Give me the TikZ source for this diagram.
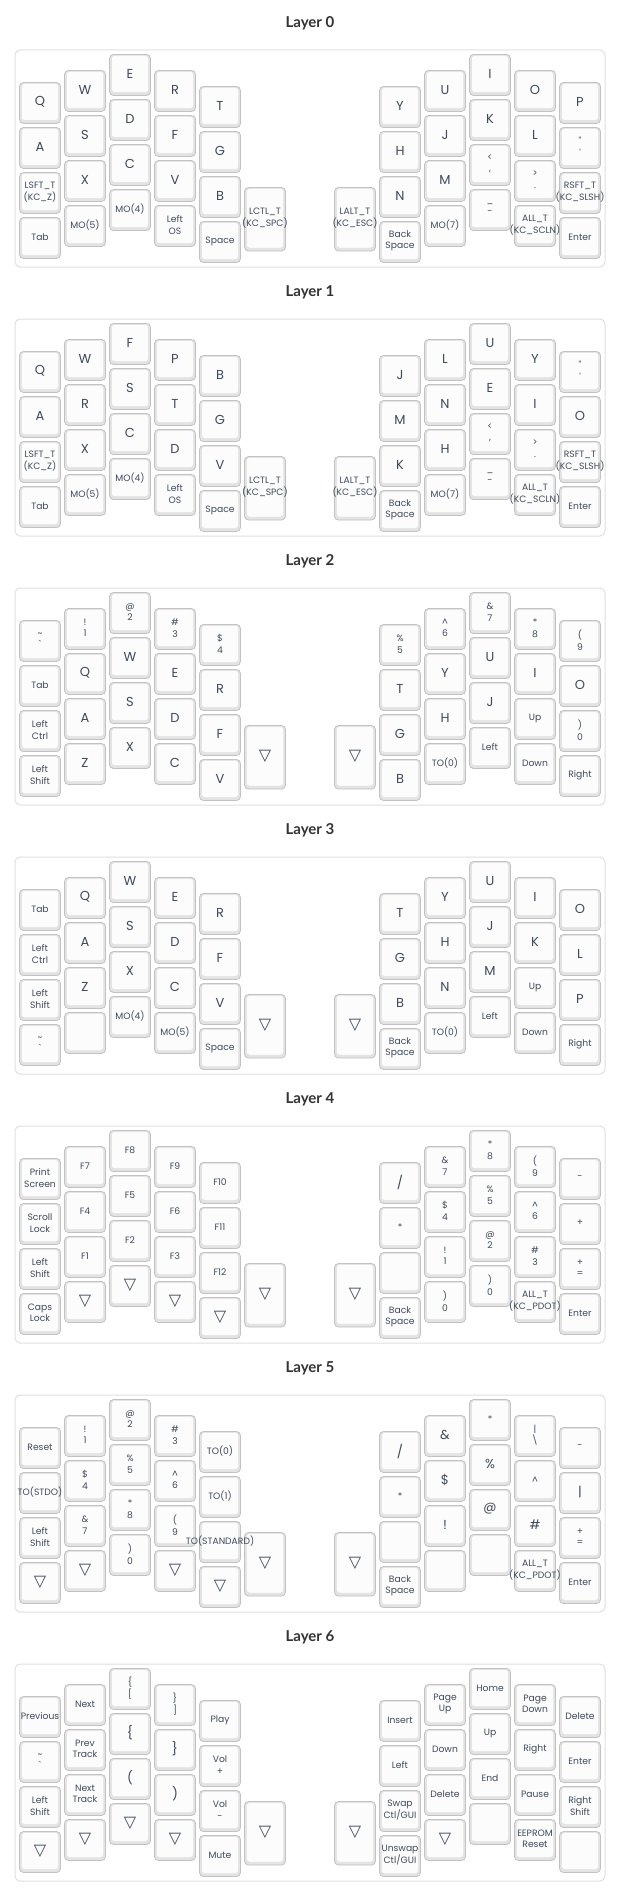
\documentclass[tikz,border=0pt]{standalone}
\usepackage{fontspec}
\newfontfamily\kf{Poppins}
\newfontfamily\tf{Lato}
\newfontfamily\symf{DejaVu Sans}
\definecolor{ktext}{HTML}{3E4A5C}
\definecolor{keyedge}{HTML}{C2C2C2}
\definecolor{keyside}{HTML}{E3E3E3}
\definecolor{keyface}{HTML}{FCFCFC}
\definecolor{keyfaceedge}{HTML}{E2E2E2}
\definecolor{panelline}{HTML}{E0E0E0}
\definecolor{titletext}{HTML}{333333}
\newif\iflabpass
\tikzset{
  keyo/.style={draw=keyedge, fill=keyside, rounded corners=4pt, line width=0.8pt,
    minimum width=41pt, inner sep=0pt, outer sep=0pt},
  keyi/.style={fill=keyface, draw=keyfaceedge, line width=0.5pt, rounded corners=3pt},
  kb/.style={text=ktext, font=\kf\fontsize{13}{15}\selectfont, inner sep=0pt},
  ks/.style={text=ktext, font=\kf\fontsize{9.2}{11.5}\selectfont, align=center, inner sep=0pt},
  kt/.style={text=ktext, font=\symf\fontsize{16}{17}\selectfont, inner sep=0pt},
  panel/.style={draw=panelline, fill=white, rounded corners=5pt, line width=1pt,
    minimum width=590pt, minimum height=217pt, inner sep=0pt, outer sep=0pt},
  ltitle/.style={text=titletext, font=\tf\bfseries\fontsize{15}{18}\selectfont, inner sep=0pt}
}
\newcommand\key[6]{%
  \iflabpass
    \node[#5] (#1l) at ([yshift=1pt]#1.center) {#6};
  \else
    \node[keyo, minimum height=#4pt, anchor=north west] (#1) at (#2,#3) {};
    \path[keyi] ([shift={(2pt,-1pt)}]#1.north west) rectangle ([shift={(-2pt,3pt)}]#1.south east);
  \fi
}
\newcommand\colkeys[4]{%
  \foreach \st/\lab [count=\r from 0] in {#4} {%
    \pgfmathsetmacro\yy{#3+45*\r}%
    \key{#1\r}{#2}{\yy}{41}{\st}{\lab}%
  }%
}
\newcommand\leftside[6]{%
  \colkeys{#1a}{19.5}{\PY+32.5}{#2}%
  \colkeys{#1b}{64.5}{\PY+20.5}{#3}%
  \colkeys{#1c}{109.5}{\PY+4.5}{#4}%
  \colkeys{#1d}{154.5}{\PY+20.5}{#5}%
  \colkeys{#1e}{199.5}{\PY+36.5}{#6}%
}
\newcommand\rightside[6]{%
  \colkeys{#1f}{379.5}{\PY+36.5}{#2}%
  \colkeys{#1g}{424.5}{\PY+20.5}{#3}%
  \colkeys{#1h}{469.5}{\PY+4.5}{#4}%
  \colkeys{#1i}{514.5}{\PY+20.5}{#5}%
  \colkeys{#1j}{559.5}{\PY+32.5}{#6}%
}
\newcommand\thumbs[5]{%
  \key{#1tl}{244.5}{\PY+137.5}{63.5}{#2}{#3}%
  \key{#1tr}{334.5}{\PY+137.5}{63.5}{#4}{#5}%
}
\newcommand\layerframe[1]{%
  \iflabpass\else
  \node[ltitle] (title#1) at (310,\PY-27) {Layer #1};
  \node[panel, anchor=north west] (panel#1) at (15,\PY) {};
  \fi
}
\newcommand\allkeys{%
% ---------------- Layer 0
\def\PY{50}
\layerframe{0}
\leftside{k0}
 {kb/Q,kb/A,ks/{LSFT\_T\\(KC\_Z)},ks/Tab}
 {kb/W,kb/S,kb/X,ks/MO(5)}
 {kb/E,kb/D,kb/C,ks/MO(4)}
 {kb/R,kb/F,kb/V,ks/{Left\\OS}}
 {kb/T,kb/G,kb/B,ks/Space}
\thumbs{k0}{ks}{LCTL\_T\\(KC\_SPC)}{ks}{LALT\_T\\(KC\_ESC)}
\rightside{k0}
 {kb/Y,kb/H,kb/N,ks/{Back\\Space}}
 {kb/U,kb/J,kb/M,ks/MO(7)}
 {kb/I,kb/K,ks/{<\\,},ks/{\_\\-}}
 {kb/O,kb/L,ks/{>\\.},ks/{ALL\_T\\(KC\_SCLN)}}
 {kb/P,ks/{"\\\textquotesingle},ks/{RSFT\_T\\(KC\_SLSH)},ks/Enter}
% ---------------- Layer 1
\def\PY{319}
\layerframe{1}
\leftside{k1}
 {kb/Q,kb/A,ks/{LSFT\_T\\(KC\_Z)},ks/Tab}
 {kb/W,kb/R,kb/X,ks/MO(5)}
 {kb/F,kb/S,kb/C,ks/MO(4)}
 {kb/P,kb/T,kb/D,ks/{Left\\OS}}
 {kb/B,kb/G,kb/V,ks/Space}
\thumbs{k1}{ks}{LCTL\_T\\(KC\_SPC)}{ks}{LALT\_T\\(KC\_ESC)}
\rightside{k1}
 {kb/J,kb/M,kb/K,ks/{Back\\Space}}
 {kb/L,kb/N,kb/H,ks/MO(7)}
 {kb/U,kb/E,ks/{<\\,},ks/{\_\\-}}
 {kb/Y,kb/I,ks/{>\\.},ks/{ALL\_T\\(KC\_SCLN)}}
 {ks/{"\\\textquotesingle},kb/O,ks/{RSFT\_T\\(KC\_SLSH)},ks/Enter}
% ---------------- Layer 2
\def\PY{588}
\layerframe{2}
\leftside{k2}
 {ks/{\textasciitilde\\\textasciigrave},ks/Tab,ks/{Left\\Ctrl},ks/{Left\\Shift}}
 {ks/{!\\1},kb/Q,kb/A,kb/Z}
 {ks/{@\\2},kb/W,kb/S,kb/X}
 {ks/{\#\\3},kb/E,kb/D,kb/C}
 {ks/{\$\\4},kb/R,kb/F,kb/V}
\thumbs{k2}{kt}{▽}{kt}{▽}
\rightside{k2}
 {ks/{\%\\5},kb/T,kb/G,kb/B}
 {ks/{\textasciicircum\\6},kb/Y,kb/H,ks/TO(0)}
 {ks/{\&\\7},kb/U,kb/J,ks/Left}
 {ks/{*\\8},kb/I,ks/Up,ks/Down}
 {ks/{(\\9},kb/O,ks/{)\\0},ks/Right}
% ---------------- Layer 3
\def\PY{857}
\layerframe{3}
\leftside{k3}
 {ks/Tab,ks/{Left\\Ctrl},ks/{Left\\Shift},ks/{\textasciitilde\\\textasciigrave}}
 {kb/Q,kb/A,kb/Z,ks/{}}
 {kb/W,kb/S,kb/X,ks/MO(4)}
 {kb/E,kb/D,kb/C,ks/MO(5)}
 {kb/R,kb/F,kb/V,ks/Space}
\thumbs{k3}{kt}{▽}{kt}{▽}
\rightside{k3}
 {kb/T,kb/G,kb/B,ks/{Back\\Space}}
 {kb/Y,kb/H,kb/N,ks/TO(0)}
 {kb/U,kb/J,kb/M,ks/Left}
 {kb/I,kb/K,ks/Up,ks/Down}
 {kb/O,kb/L,kb/P,ks/Right}
% ---------------- Layer 4
\def\PY{1126}
\layerframe{4}
\leftside{k4}
 {ks/{Print\\Screen},ks/{Scroll\\Lock},ks/{Left\\Shift},ks/{Caps\\Lock}}
 {ks/F7,ks/F4,ks/F1,kt/▽}
 {ks/F8,ks/F5,ks/F2,kt/▽}
 {ks/F9,ks/F6,ks/F3,kt/▽}
 {ks/F10,ks/F11,ks/F12,kt/▽}
\thumbs{k4}{kt}{▽}{kt}{▽}
\rightside{k4}
 {kb/{/},ks/*,ks/{},ks/{Back\\Space}}
 {ks/{\&\\7},ks/{\$\\4},ks/{!\\1},ks/{)\\0}}
 {ks/{*\\8},ks/{\%\\5},ks/{@\\2},ks/{)\\0}}
 {ks/{(\\9},ks/{\textasciicircum\\6},ks/{\#\\3},ks/{ALL\_T\\(KC\_PDOT)}}
 {ks/-,ks/+,ks/{+\\=},ks/Enter}
% ---------------- Layer 5
\def\PY{1395}
\layerframe{5}
\leftside{k5}
 {ks/Reset,ks/TO(STDO),ks/{Left\\Shift},kt/▽}
 {ks/{!\\1},ks/{\$\\4},ks/{\&\\7},kt/▽}
 {ks/{@\\2},ks/{\%\\5},ks/{*\\8},ks/{)\\0}}
 {ks/{\#\\3},ks/{\textasciicircum\\6},ks/{(\\9},kt/▽}
 {ks/TO(0),ks/TO(1),ks/TO(STANDARD),kt/▽}
\thumbs{k5}{kt}{▽}{kt}{▽}
\rightside{k5}
 {kb/{/},ks/*,ks/{},ks/{Back\\Space}}
 {kb/\&,kb/\$,kb/!,ks/{}}
 {ks/*,kb/\%,kb/@,ks/{}}
 {ks/{|\\\textbackslash},ks/\textasciicircum,kb/\#,ks/{ALL\_T\\(KC\_PDOT)}}
 {ks/-,kb/|,ks/{+\\=},ks/Enter}
% ---------------- Layer 6
\def\PY{1664}
\layerframe{6}
\leftside{k6}
 {ks/Previous,ks/{\textasciitilde\\\textasciigrave},ks/{Left\\Shift},kt/▽}
 {ks/Next,ks/{Prev\\Track},ks/{Next\\Track},kt/▽}
 {ks/{\{\\{}[},kb/\{,kb/(,kt/▽}
 {ks/{\}\\]},kb/\},kb/),kt/▽}
 {ks/Play,ks/{Vol\\+},ks/{Vol\\-},ks/Mute}
\thumbs{k6}{kt}{▽}{kt}{▽}
\rightside{k6}
 {ks/Insert,ks/Left,ks/{Swap\\Ctl/GUI},ks/{Unswap\\Ctl/GUI}}
 {ks/{Page\\Up},ks/Down,ks/Delete,kt/▽}
 {ks/Home,ks/Up,ks/End,ks/{}}
 {ks/{Page\\Down},ks/Right,ks/Pause,ks/{EEPROM\\Reset}}
 {ks/Delete,ks/Enter,ks/{Right\\Shift},ks/{}}
}
\begin{document}
\begin{tikzpicture}[x=1pt,y=-1pt]
\fill[white] (0,0) rectangle (621,1889);
\useasboundingbox (0,0) rectangle (621,1889);
\labpassfalse
\allkeys
\labpasstrue
\allkeys
\end{tikzpicture}
\end{document}
